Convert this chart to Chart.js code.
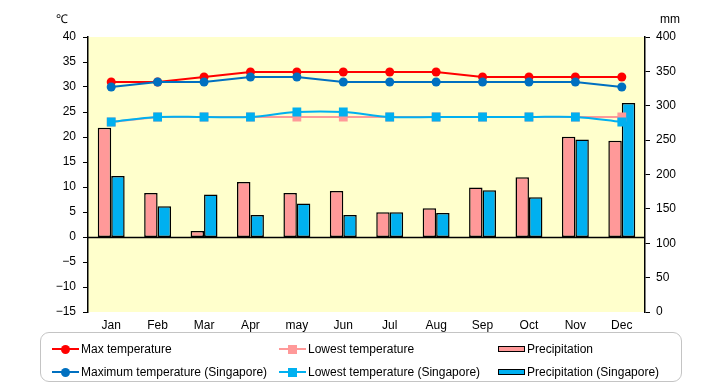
<!DOCTYPE html>
<html>
<head>
<meta charset="utf-8">
<script src="https://cdn.jsdelivr.net/npm/chart.js@4.4.1/dist/chart.umd.min.js"></script>
<style>
    body { margin: 0; background: #fff; font-family: "Liberation Sans", Arial, sans-serif; }
    #wrap { position: relative; width: 720px; height: 385px; }
    .unit { position: absolute; font-size: 12px; line-height: 14px; color: #000; }
    #legend {
        position: absolute; left: 40px; top: 332px; width: 640px; height: 48px;
        border: 1.5px solid #c4c4c4; border-radius: 9px;
    }
    .item { position: absolute; height: 16px; display: flex; align-items: center; font-size: 12px; white-space: nowrap; }
    .mk { position: relative; width: 27px; height: 16px; margin-right: 2px; }
    .mk .ln { position: absolute; left: 0; right: 0; top: 7px; height: 2px; }
    .mk .dot { position: absolute; left: 9px; top: 4px; width: 9px; height: 9px; border-radius: 50%; }
    .mk .sq { position: absolute; left: 9px; top: 4px; width: 9px; height: 9px; }
    .mk .bar { position: absolute; left: 0; right: 0; top: 5px; height: 4px; border: 1px solid #000; }
</style>
</head>
<body>
<div id="wrap">
    <canvas id="climateChart" width="720" height="385"></canvas>
    <div class="unit" style="left:56px; top:12px;">℃</div>
    <div class="unit" style="left:660px; top:12px;">mm</div>
    <div id="legend"></div>
</div>
<script>
const months = ["Jan", "Feb", "Mar", "Apr", "may", "Jun", "Jul", "Aug", "Sep", "Oct", "Nov", "Dec"];
const maxTemp = [31, 31, 32, 33, 33, 33, 33, 33, 32, 32, 32, 32];
const lowTemp = [23, 24, 24, 24, 24, 24, 24, 24, 24, 24, 24, 24];
const maxTempSg = [30, 31, 31, 32, 32, 31, 31, 31, 31, 31, 31, 30];
const lowTempSg = [23, 24, 24, 24, 25, 25, 24, 24, 24, 24, 24, 23];
const precip = [268, 173, 118, 189, 173, 176, 145, 151, 181, 196, 255, 249];
const precipSg = [198, 154, 171, 141, 158, 141, 145, 144, 177, 167, 251, 304];
// axis ranges
const tempMin = -15, tempMax = 40, tempStep = 5;
const mmMin = 0, mmMax = 400, mmStep = 50;

// bars grow from the 0 degree line
const barBase = mmMin + (0 - tempMin) / (tempMax - tempMin) * (mmMax - mmMin);

const FONT = { family: "Liberation Sans", size: 12 };

const plotBg = {
    id: "plotBg",
    beforeDraw(chart) {
        const a = chart.chartArea;
        const ctx = chart.ctx;
        ctx.save();
        ctx.fillStyle = "#ffffcc";
        ctx.fillRect(a.left, a.top, a.right - a.left, a.bottom - a.top);
        ctx.restore();
    },
    afterDatasetsDraw(chart) {
        const a = chart.chartArea;
        const y = Math.round(chart.scales.y.getPixelForValue(0)) + 0.5;
        const ctx = chart.ctx;
        ctx.save();
        ctx.strokeStyle = "#000";
        ctx.lineWidth = 1.5;
        ctx.beginPath();
        ctx.moveTo(a.left, y);
        ctx.lineTo(a.right, y);
        ctx.stroke();
        ctx.restore();
    }
};

function lineSet(label, data, color, style, order, tension) {
    return {
        type: "line",
        label: label,
        data: data,
        yAxisID: "y",
        borderColor: color,
        backgroundColor: color,
        borderWidth: 2,
        pointStyle: style,
        pointRadius: style === "rect" ? 6.2 : 4.5,
        pointBorderWidth: 0,
        tension: tension,
        order: order
    };
}

function barSet(label, data, color, order) {
    return {
        type: "bar",
        label: label,
        data: data,
        yAxisID: "y1",
        base: barBase,
        backgroundColor: color,
        borderColor: "#000",
        borderWidth: 1.5,
        borderSkipped: false,
        categoryPercentage: 0.58,
        barPercentage: 1,
        order: order
    };
}

const datasets = [
    lineSet("Max temperature", maxTemp, "#ff0000", "circle", 4, 0),
    lineSet("Lowest temperature", lowTemp, "#ff9999", "rect", 3, 0),
    barSet("Precipitation", precip, "#ff9999", 5),
    lineSet("Maximum temperature (Singapore)", maxTempSg, "#0070c0", "circle", 2, 0),
    lineSet("Lowest temperature (Singapore)", lowTempSg, "#00b0f0", "rect", 1, 0.35),
    barSet("Precipitation (Singapore)", precipSg, "#00b0f0", 6)
];

const chart = new Chart(document.getElementById("climateChart").getContext("2d"), {
    type: "bar",
    data: { labels: months, datasets: datasets },
    options: {
        responsive: false,
        devicePixelRatio: 1,
        animation: false,
        layout: { padding: { top: 37, bottom: 53, left: 0, right: 0 } },
        plugins: { legend: { display: false }, tooltip: { enabled: false } },
        scales: {
            x: {
                grid: { display: false, drawTicks: false },
                border: { display: false },
                ticks: { color: "#000", font: FONT, padding: 6 },
                afterFit: s => { s.height = 20; }
            },
            y: {
                position: "left",
                min: tempMin,
                max: tempMax,
                ticks: {
                    stepSize: tempStep,
                    color: "#000",
                    font: FONT,
                    padding: 7,
                    callback: v => String(v).replace("-", "\u2212")
                },
                grid: { drawOnChartArea: false, tickColor: "#000", tickLength: 5 },
                border: { color: "#000", width: 1.5 },
                afterFit: s => { s.width = 88; }
            },
            y1: {
                position: "right",
                min: mmMin,
                max: mmMax,
                ticks: { stepSize: mmStep, color: "#000", font: FONT, padding: 6 },
                grid: { drawOnChartArea: false, tickColor: "#000", tickLength: 5 },
                border: { color: "#000", width: 1.5 },
                afterFit: s => { s.width = 75; }
            }
        }
    },
    plugins: [plotBg]
});

// -- HTML LEGEND (3 columns x 2 rows)

const legend = document.getElementById("legend");
const colX = [11, 238, 457];
const rowY = [8, 31];
chart.data.datasets.forEach((ds, i) => {
    const item = document.createElement("div");
    item.className = "item";
    item.style.left = colX[i % 3] + "px";
    item.style.top = rowY[Math.floor(i / 3)] + "px";
    const mk = document.createElement("span");
    mk.className = "mk";
    if (ds.type === "bar") {
        mk.innerHTML = `<span class="bar" style="background:${ds.backgroundColor}"></span>`;
    } else {
        const shape = ds.pointStyle === "rect" ? "sq" : "dot";
        mk.innerHTML = `<span class="ln" style="background:${ds.borderColor}"></span>` +
            `<span class="${shape}" style="background:${ds.borderColor}"></span>`;
    }
    const txt = document.createElement("span");
    txt.textContent = ds.label;
    item.appendChild(mk);
    item.appendChild(txt);
    legend.appendChild(item);
});
</script>
</body>
</html>
